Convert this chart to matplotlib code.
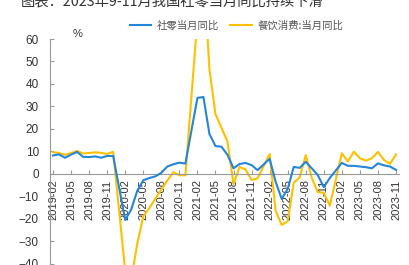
import numpy as np
import matplotlib
matplotlib.use("Agg")
import matplotlib.pyplot as plt

plt.rcParams['font.family'] = ['Liberation Sans', 'Noto Sans CJK SC', 'DejaVu Sans']

# months 2019-02 .. 2023-11, January values are not published (None)
months = []
for y in range(2019, 2024):
    for m in range(1, 13):
        if (y == 2019 and m < 2) or (y == 2023 and m > 11):
            continue
        months.append("%d-%02d" % (y, m))

retail = [8.2, 8.7, 7.2, 8.6, 9.8, 7.6, 7.5, 7.8, 7.2, 8.0, 8.0,
          None, -20.5, -15.8, -7.5, -2.8, -1.8, -1.1, 0.5, 3.3, 4.3, 5.0, 4.6,
          None, 33.8, 34.2, 17.7, 12.4, 12.1, 8.5, 2.5, 4.4, 4.9, 3.9, 1.7,
          None, 6.7, -3.5, -11.1, -6.7, 3.1, 2.7, 5.4, 2.5, -0.5, -5.9, -1.8,
          None, 4.9, 3.6, 3.6, 3.3, 3.0, 2.5, 4.7, 3.8, 3.3, 1.8]

catering = [9.7, 9.3, 8.5, 9.3, 10.2, 9.1, 9.3, 9.6, 9.4, 8.9, 9.8,
            None, -43.1, -46.8, -31.1, -18.9, -15.2, -11.0, -7.0, -2.9, 0.8, -0.6, -0.6,
            None, 68.9, 91.6, 46.4, 26.6, 20.5, 14.3, -4.5, 3.1, 2.0, -2.7, -2.0,
            None, 8.9, -16.4, -22.7, -21.1, -4.0, -1.5, 8.4, -1.7, -8.1, -8.4, -14.1,
            None, 9.2, 5.5, 9.9, 7.0, 5.9, 7.0, 9.8, 6.2, 4.5, 8.7]

series_names = ["社零当月同比", "餐饮消费:当月同比"]
title = "图表：2023年9-11月我国社零当月同比持续下滑"


def valid(vals):
    x = [i for i, v in enumerate(vals) if v is not None]
    y = [v for v in vals if v is not None]
    return x, y


fig = plt.figure(figsize=(4.09, 2.65), dpi=100)
ax = fig.add_axes([0.1222, 0.0, 0.8534, 0.8528])

xr, yr = valid(retail)
xc, yc = valid(catering)
l1, = ax.plot(xr, yr, color="#2386DB", lw=1.5, solid_joinstyle="round", zorder=3)
l2, = ax.plot(xc, yc, color="#FFC000", lw=1.5, solid_joinstyle="round", zorder=2)

# spine position first: set_position resets the ticks
for s in ["top", "right"]:
    ax.spines[s].set_visible(False)
ax.spines["bottom"].set_position(("data", 0))
ax.spines["bottom"].set_color("#999999")
ax.spines["left"].set_color("#999999")

ax.set_xlim(-0.5, len(months) - 0.5)
ax.set_ylim(-40.5, 60)
ax.set_yticks(np.arange(-40, 61, 10))

tick_pos = list(range(0, len(months), 3))
ax.set_xticks(tick_pos)
ax.set_xticklabels([months[i] for i in tick_pos], rotation=90, fontsize=8,
                   color="#333333", va="top")

ax.tick_params(axis="y", direction="in", length=3, color="#999999", pad=8,
               labelsize=8.5, labelcolor="#333333")
ax.tick_params(axis="x", direction="in", length=3, color="#999999", pad=4)
ax.patch.set_alpha(0)

fig.text(78 / 409, 1 - 34 / 265, "%", fontsize=8, color="#333333", ha="center", va="center")

fig.legend([l1, l2], series_names, loc="center", bbox_to_anchor=(0.578, 0.905),
           ncol=2, frameon=False, handlelength=2.1, handletextpad=0.5, columnspacing=1.1,
           prop={"family": ["Noto Sans CJK SC"], "size": 7.5}, labelcolor="#555555")

fig.text(21 / 409, 1 - 5 / 265, title, fontsize=10.3, color="#333333",
         family=["Noto Sans CJK SC", "DejaVu Sans"], ha="left", va="baseline")

fig.savefig("out.png", dpi=100)
